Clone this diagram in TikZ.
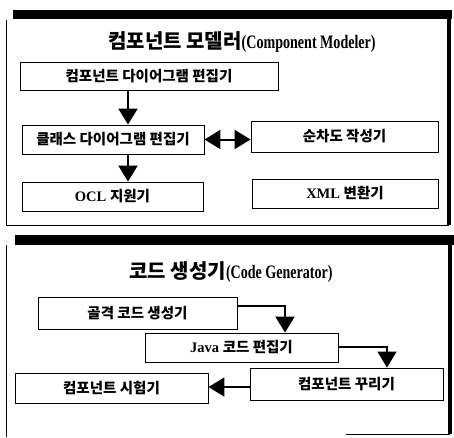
\documentclass[tikz,border=0pt]{standalone}
\usepackage{fontspec}
\usepackage{graphicx}
\setmainfont{Liberation Serif}
\newfontfamily\cjk{Noto Sans CJK KR}
\usetikzlibrary{arrows.meta}
\newcommand{\K}[1]{{\cjk\bfseries #1}}
\newcommand{\TK}[1]{{\fontsize{20}{22}\selectfont\cjk\bfseries #1}}
\newcommand{\TL}[1]{\scalebox{0.74}[1]{\fontsize{19}{22}\selectfont\bfseries #1}}
\tikzset{
  box/.style={draw, line width=0.9pt, inner sep=0pt, font=\fontsize{14.5}{17}\selectfont\bfseries},
  bigtip/.tip={Triangle[width=19pt 0 0,length=16pt 0 0]},
  conn/.style={line width=2pt, -bigtip},
  dconn/.style={line width=2pt, bigtip-bigtip},
  ttl/.style={inner sep=0pt},
}
\begin{document}
\begin{tikzpicture}[x=1pt,y=-1pt]
\useasboundingbox (0,0) rectangle (454,437);
% top panel frame
\fill (13,10) rectangle (452,19);
\fill (447,19) rectangle (451,225);
\draw[line width=0.9pt] (6,20) -- (6,225) -- (449,225);
% lower panel frame
\fill (15,235) rectangle (454,245);
\fill (448,245) rectangle (452,434);
\draw[line width=0.9pt] (6,245) -- (6,437);
\draw[line width=0.9pt] (346,434) -- (450,434);

% top panel
\node[ttl] (t1) at (242,42) {\TK{컴포넌트 모델러}\TL{(Component Modeler)}};
\node[box, minimum width=258pt, minimum height=28pt] (a1) at (149,76) {\K{컴포넌트 다이어그램 편집기}};
\node[box, minimum width=182pt, minimum height=29pt] (a2) at (113,139.5) {\K{클래스 다이어그램 편집기}};
\node[box, minimum width=187pt, minimum height=31pt] (a3) at (344.5,136.5) {\K{순차도 작성기}};
\node[box, minimum width=181pt, minimum height=29pt] (a4) at (112.5,196.5) {OCL \K{지원기}};
\node[box, minimum width=186pt, minimum height=29pt] (a5) at (345,193.5) {XML \K{변환기}};
\coordinate (c1) at (128,0);
\draw[conn] (a1.south -| c1) -- (a2.north -| c1);
\draw[conn] (a2.south -| c1) -- (a4.north -| c1);
\draw[dconn] (a2.east) -- (a3.west |- a2.east);

% lower panel
\node[ttl] (t2) at (231,272) {\TK{코드 생성기}\TL{(Code Generator)}};
\node[box, minimum width=199pt, minimum height=32pt] (b1) at (137.5,313) {\K{골격 코드 생성기}};
\node[box, minimum width=193pt, minimum height=29pt] (b2) at (241.5,347.5) {Java \K{코드 편집기}};
\node[box, minimum width=193pt, minimum height=32pt] (b3) at (346.5,384) {\K{컴포넌트 꾸리기}};
\node[box, minimum width=193pt, minimum height=30pt] (b4) at (111.5,388) {\K{컴포넌트 시험기}};
\coordinate (d1) at (285,306);
\coordinate (d2) at (387,347);
\coordinate (d3) at (0,387);
\draw[conn] (b1.east |- d1) -| (b2.north -| d1);
\draw[conn] (b2.east |- d2) -| (b3.north -| d2);
\draw[conn] (b3.west |- d3) -- (b4.east |- d3);
\end{tikzpicture}
\end{document}
